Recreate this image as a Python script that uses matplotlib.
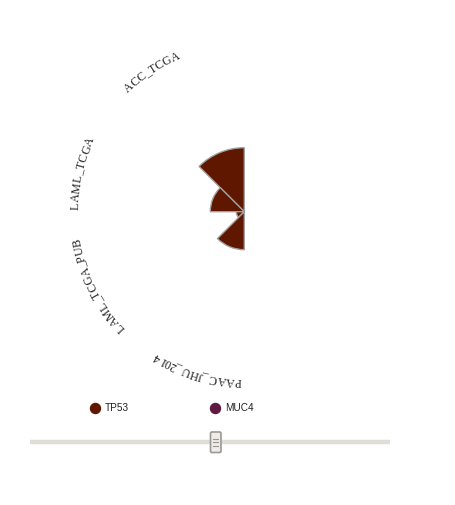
import numpy as np
import matplotlib
matplotlib.use("Agg")
import matplotlib.pyplot as plt
from matplotlib.patches import FancyBboxPatch
from matplotlib.font_manager import FontProperties, findfont, get_font

# data
studies = ["ACC_TCGA", "LAML_TCGA", "LAML_TCGA_PUB", "PAAC_JHU_2014"]
tp53 = [64, 34, 8, 38]
genes = ["TP53", "MUC4"]
gene_colors = ["#5f1700", "#5e1a40"]

W, H = 456, 505
CX, CY = 244.3, 211.7      # centre of the rose, pixels from top-left
HALF = 190                 # half size of polar axes in px (= rmax)
LABEL_R = 166              # baseline radius of the curved labels

fig = plt.figure(figsize=(W / 100, H / 100), dpi=100)
fig.patch.set_facecolor("white")

ax = fig.add_axes([(CX - HALF) / W, (H - CY - HALF) / H, 2 * HALF / W, 2 * HALF / H],
                  projection="polar")
ax.set_theta_zero_location("N")
ax.set_theta_direction(1)
ax.set_ylim(0, HALF)
ax.set_axis_off()

n = len(studies)
step = np.pi / n
theta = np.arange(n) * step + step / 2
ax.bar(theta, tp53, width=step, align="center", color=gene_colors[0],
       edgecolor="#a0a0a0", linewidth=1.0)

# curved labels, running clockwise with tops outward
fs = 12 * 72 / 100
fp = FontProperties(family="Liberation Serif", size=fs)
font = get_font(findfont(fp))
font.set_size(fs, 100)

def advance(ch):
    glyph = font.load_char(ord(ch))
    return glyph.linearHoriAdvance / 65536

for i, name in enumerate(studies):
    start = np.degrees((i + 1) * step) - 2.0
    adv = [advance(c) for c in name]
    pos = np.cumsum([0] + adv[:-1]) + np.array(adv) / 2 - adv[0] / 2
    for ch, p in zip(name, pos):
        ang = start - np.degrees(p / LABEL_R)
        ax.text(np.radians(ang), LABEL_R, ch, rotation=ang, rotation_mode="anchor",
                ha="center", va="baseline", fontproperties=fp, color="#222222")

# overlay in pixel coordinates: legend and slider
ov = fig.add_axes([0, 0, 1, 1])
ov.set_xlim(0, W)
ov.set_ylim(H, 0)
ov.set_axis_off()
ov.patch.set_alpha(0)

leg_x = [95, 215]
for gx, g, c in zip(leg_x, genes, gene_colors):
    ov.scatter([gx], [407.5], s=52, color=c, zorder=3)
    ov.text(gx + 10, 408, g, fontsize=7.2, family="Liberation Sans",
            color="#222222", ha="left", va="center")

ov.plot([30, 390], [441.5, 441.5], color="#e0dcd6", lw=3.2, solid_capstyle="butt")
ov.add_patch(FancyBboxPatch((210.5, 432), 10.5, 20.5, boxstyle="round,pad=0,rounding_size=1.5",
                            facecolor="#efece8", edgecolor="#9c9893", lw=1.2, zorder=4))
for yy in (438.5, 442, 445.5):
    ov.plot([213.5, 218], [yy, yy], color="#9a968f", lw=0.8, zorder=5)

fig.savefig("out.png", dpi=100)
